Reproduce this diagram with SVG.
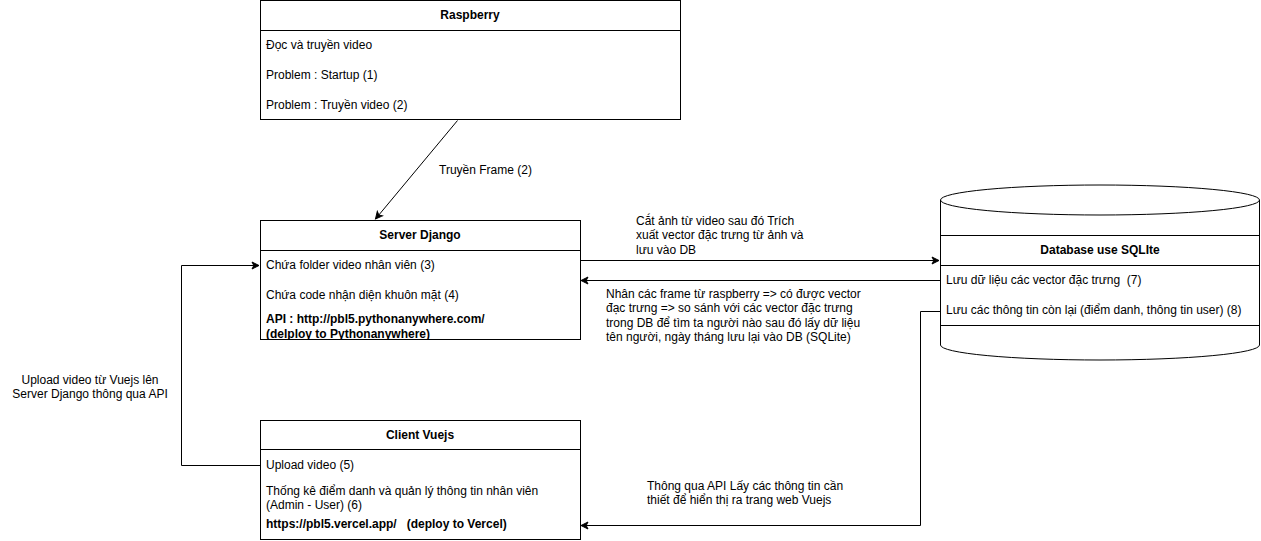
<svg xmlns="http://www.w3.org/2000/svg" width="1261" height="541" viewBox="0 0 1261 541">
<style>
text{font-family:"Liberation Sans",Arial,sans-serif;font-size:12px;fill:#000;white-space:pre}
.b{font-weight:bold}
.c{text-anchor:middle}
.box{fill:#fff;stroke:#000;stroke-width:1}
.ln{fill:none;stroke:#000;stroke-width:1}
.edge{fill:none;stroke:#000;stroke-width:1}
</style>
<defs>
<marker id="arr" markerWidth="10" markerHeight="10" refX="8" refY="5" orient="auto" markerUnits="userSpaceOnUse">
<path d="M1,1.5 L8,5 L1,8.5 L2.8,5 Z" fill="#000" stroke="#000" stroke-width="1"/>
</marker>
<clipPath id="srvclip"><rect x="260" y="220" width="321" height="119"/></clipPath>
</defs>
<rect width="1261" height="541" fill="#fff"/>
<g id="connectors">
<path class="edge" d="M457.5,120.5 L375.5,219" marker-end="url(#arr)"/>
<path class="edge" d="M580.5,260.5 L939,260.5" marker-end="url(#arr)"/>
<path class="edge" d="M940,280.5 L581,280.5" marker-end="url(#arr)"/>
<path class="edge" d="M260,465.5 L181.5,465.5 L181.5,265.5 L259,265.5" marker-end="url(#arr)"/>
<path class="edge" d="M940,311.5 L920.5,311.5 L920.5,525.5 L581,525.5" marker-end="url(#arr)"/>
<text x="439" y="174">Truyền Frame (2)</text>
<text x="636" y="225">Cắt ảnh từ video sau đó Trích</text>
<text x="636" y="239">xuất vector đặc trưng từ ảnh và</text>
<text x="636" y="254">lưu vào DB</text>
<text x="606" y="298">Nhân các frame từ raspberry =&gt; có được vector</text>
<text x="606" y="312">đạc trưng =&gt; so sánh với các vector đặc trưng</text>
<text x="606" y="327">trong DB để tìm ta người nào sau đó lấy dữ liệu</text>
<text x="606" y="341">tên người, ngày tháng lưu lại vào DB (SQLite)</text>
<text class="c" x="90" y="384">Upload video từ Vuejs lên</text>
<text class="c" x="90" y="398">Server Django thông qua API</text>
<text x="647" y="490">Thông qua API Lấy các thông tin cần</text>
<text x="647" y="504">thiết để hiển thị ra trang web Vuejs</text>
</g>
<g id="raspberry">
<rect class="box" x="260.5" y="0.5" width="420" height="119"/>
<line class="ln" x1="260.5" y1="30.5" x2="680.5" y2="30.5"/>
<text class="b c" x="470" y="19">Raspberry</text>
<text x="266" y="49">Đọc và truyền video</text>
<text x="266" y="79">Problem : Startup (1)</text>
<text x="266" y="109">Problem : Truyền video (2)</text>
</g>
<g id="server-django">
<rect class="box" x="260.5" y="220.5" width="320" height="119"/>
<line class="ln" x1="260.5" y1="250.5" x2="580.5" y2="250.5"/>
<text class="b c" x="420" y="239">Server Django</text>
<text x="266" y="269">Chứa folder video nhân viên (3)</text>
<text x="266" y="299">Chứa code nhận diện khuôn mặt (4)</text>
<g clip-path="url(#srvclip)">
<text class="b" x="266" y="323">API : http://pbl5.pythonanywhere.com/</text>
<text class="b" x="266" y="338">(delploy to Pythonanywhere)</text>
</g>
<line class="ln" x1="260.5" y1="339.5" x2="580.5" y2="339.5"/>
</g>
<g id="client-vuejs">
<rect class="box" x="260.5" y="420.5" width="320" height="119"/>
<line class="ln" x1="260.5" y1="449.5" x2="580.5" y2="449.5"/>
<text class="b c" x="420" y="439">Client Vuejs</text>
<text x="266" y="469">Upload video (5)</text>
<text x="266" y="495">Thống kê điểm danh và quản lý thông tin nhân viên</text>
<text x="266" y="509">(Admin - User) (6)</text>
<text class="b" x="266" y="528">https://pbl5.vercel.app/   (deploy to Vercel)</text>
</g>
<g id="database">
<path class="box" d="M940.5,200 A159.5,15 0 0 1 1259.5,200 L1259.5,345 A159.5,15 0 0 1 940.5,345 Z"/>
<path class="ln" d="M940.5,200 A159.5,15 0 0 0 1259.5,200"/>
<line class="ln" x1="940.5" y1="235.5" x2="1259.5" y2="235.5"/>
<line class="ln" x1="940.5" y1="265.5" x2="1259.5" y2="265.5"/>
<line class="ln" x1="940.5" y1="325.5" x2="1259.5" y2="325.5"/>
<text class="b c" x="1100" y="254">Database use SQLIte</text>
<text x="946" y="284">Lưu dữ liệu các vector đặc trưng  (7)</text>
<text x="946" y="314">Lưu các thông tin còn lại (điểm danh, thông tin user) (8)</text>
</g>
</svg>
